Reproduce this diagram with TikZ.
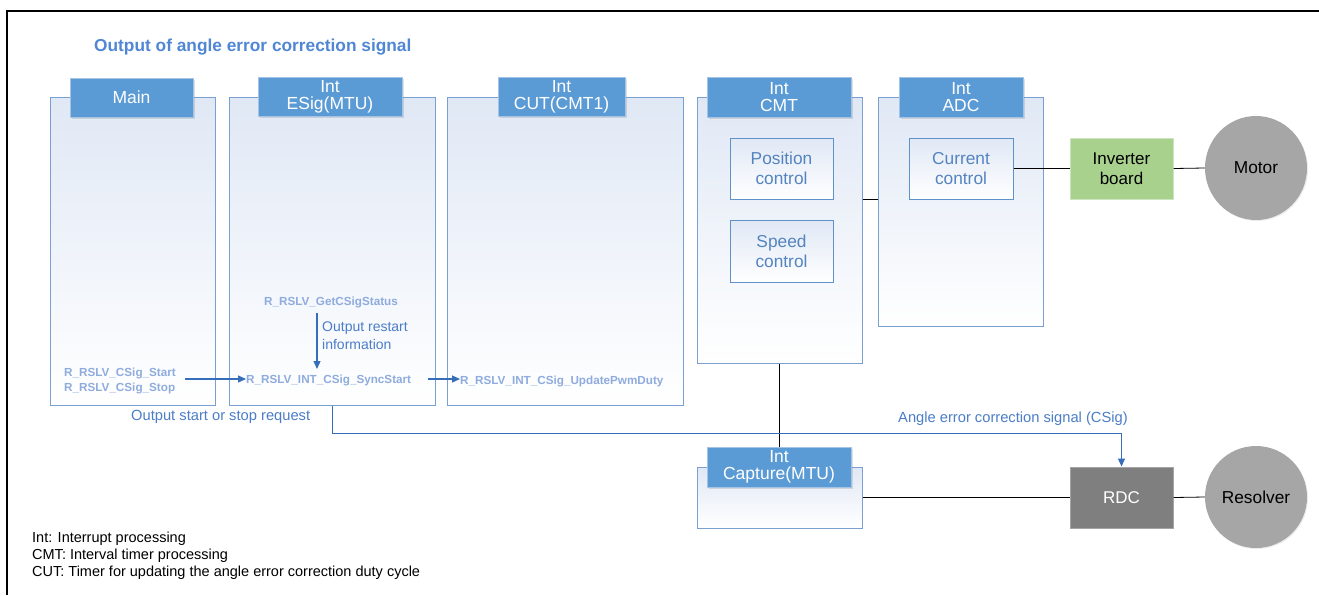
\documentclass[tikz,border=0pt]{standalone}
\usepackage{fontspec}
\setmainfont{Liberation Sans}
\usetikzlibrary{arrows.meta,shapes.geometric,shadows,calc}
\definecolor{hdrfill}{RGB}{91,155,213}
\definecolor{hdrline}{RGB}{165,195,228}
\definecolor{boxline}{RGB}{122,160,210}
\definecolor{boxtop}{RGB}{224,232,245}
\definecolor{inline}{RGB}{95,145,202}
\definecolor{intext}{RGB}{84,132,192}
\definecolor{titleblue}{RGB}{80,135,212}
\definecolor{fnblue}{RGB}{143,172,222}
\definecolor{arrblue}{RGB}{55,110,185}
\definecolor{lblblue}{RGB}{75,125,200}
\definecolor{invgreen}{RGB}{169,209,142}
\definecolor{invline}{RGB}{205,228,190}
\definecolor{circgray}{RGB}{166,166,166}
\definecolor{rdcgray}{RGB}{127,127,127}
\tikzset{
  bigbox/.style={draw=boxline, line width=1pt, top color=boxtop, bottom color=white, inner sep=0pt},
  hdrbox/.style={draw=hdrline, line width=0.8pt, fill=hdrfill, text=white, inner sep=0pt, align=center,
    font=\fontsize{17.5}{19}\selectfont, drop shadow={opacity=0.25, shadow xshift=1.5pt, shadow yshift=-1.5pt}},
  inbox/.style={draw=inline, line width=1pt, top color=boxtop, bottom color=white, text=intext, align=center,
    inner sep=0pt, minimum width=103pt, minimum height=61pt, font=\fontsize{17.3}{20}\selectfont},
  fnlabel/.style={text=fnblue, font=\fontsize{11.7}{15}\bfseries\selectfont, inner sep=0pt, align=left},
  bluelbl/.style={text=lblblue, inner sep=0pt, align=left, font=\fontsize{14.7}{18}\selectfont},
  blackline/.style={draw=black, line width=0.8pt},
  bluearrow/.style={draw=arrblue, line width=1.2pt, -{Triangle[length=8pt,width=7pt]}},
  devcircle/.style={ellipse, fill=circgray, inner sep=0pt, font=\fontsize{17.3}{19}\selectfont,
    drop shadow={opacity=0.15, shadow xshift=1pt, shadow yshift=-1pt}},
}
\begin{document}
\begin{tikzpicture}[x=1pt,y=-1pt]
\useasboundingbox (0,0) rectangle (1319,595);
\fill[white] (0,0) rectangle (1319,595);
% frame
\coordinate (fbl) at (7,595);
\coordinate (ftl) at (7,11);
\coordinate (ftr) at (1319,11);
\draw[line width=2pt] (fbl) -- (ftl) -- (ftr);

% title
\node[anchor=west, text=titleblue, font=\fontsize{17.3}{20}\bfseries\selectfont, inner sep=0pt] (title) at (94,47) {Output of angle error correction signal};

% big boxes
\node[bigbox, minimum width=165pt, minimum height=308pt] (main) at (132.5,251) {};
\node[bigbox, minimum width=206pt, minimum height=308pt] (esig) at (332,251) {};
\node[bigbox, minimum width=236pt, minimum height=308pt] (cut) at (565,251) {};
\node[bigbox, minimum width=165pt, minimum height=266pt] (cmt) at (779.5,230) {};
\node[bigbox, minimum width=165pt, minimum height=229pt] (adc) at (960.5,211.5) {};
\node[bigbox, minimum width=165pt, minimum height=61pt] (cap) at (779.5,497.5) {};

% headers
\node[hdrbox, minimum width=123pt, minimum height=39pt] (mainH) at (131.5,97.5) {Main};
\node[hdrbox, minimum width=144pt, minimum height=39pt] (esigH) at (330,96.5) {Int\\[-2pt]ESig(MTU)};
\node[hdrbox, minimum width=127pt, minimum height=39pt] (cutH) at (561.5,96.5) {Int\\[-2pt]CUT(CMT1)};
\node[hdrbox, minimum width=144pt, minimum height=40pt] (cmtH) at (779,97) {Int\\[-2pt]CMT};
\node[hdrbox, minimum width=124pt, minimum height=40pt] (adcH) at (961,97) {Int\\[-2pt]ADC};
\node[hdrbox, minimum width=144pt, minimum height=40pt] (capH) at (779,467) {Int\\[-2pt]Capture(MTU)};

% inner boxes
\node[inbox] (pos) at (781.5,168.5) {Position\\control};
\node[inbox, minimum height=62pt] (spd) at (781.5,251) {Speed\\control};
\node[inbox, minimum width=104pt] (cur) at (961,168.5) {Current\\control};

% devices
\node[fill=invgreen, draw=invline, line width=1pt, minimum width=103pt, minimum height=61pt, inner sep=0pt,
  align=center, font=\fontsize{17}{20}\selectfont,
  drop shadow={opacity=0.2, shadow xshift=1pt, shadow yshift=-1pt}] (inv) at (1121.5,168.5) {Inverter\\board};
\node[devcircle, minimum width=102pt, minimum height=104pt] (motor) at (1256,168) {Motor};
\node[fill=rdcgray, draw=rdcgray!70!white, line width=1pt, minimum width=103pt, minimum height=61pt, inner sep=0pt,
  text=white, font=\fontsize{17}{20}\selectfont,
  drop shadow={opacity=0.2, shadow xshift=1pt, shadow yshift=-1pt}] (rdc) at (1121.5,497.5) {RDC};
\node[devcircle, minimum width=102pt, minimum height=102pt] (res) at (1256,497) {Resolver};

% black connectors
\draw[blackline] (pos.south -| cmt.east) -- (pos.south -| adc.west);
\draw[blackline] (cur.east) -- (inv.west);
\draw[blackline] (inv.east) -- (motor.west);
\draw[blackline] (cmt.south) -- (capH.north -| cmt.south);
\draw[blackline] (cap.east) -- (rdc.west);
\draw[blackline] (rdc.east) -- (res.west);

% function labels
\node[fnlabel, anchor=west] (start) at (64,381) {R\_RSLV\_CSig\_Start\\R\_RSLV\_CSig\_Stop};
\node[fnlabel, anchor=west] (sync) at (246,380) {R\_RSLV\_INT\_CSig\_SyncStart};
\node[fnlabel, anchor=west] (upd) at (460,381) {R\_RSLV\_INT\_CSig\_UpdatePwmDuty};
\node[fnlabel] (gets) at (331,302) {R\_RSLV\_GetCSigStatus};

% blue arrows
\coordinate (a1s) at (185,379);
\draw[bluearrow] (a1s) -- (a1s -| sync.west);
\coordinate (a2s) at (428,379);
\draw[bluearrow] (a2s) -- (a2s -| upd.west);
\coordinate (a3s) at (317,313);
\coordinate (a3e) at (317,369);
\draw[bluearrow] (a3s) -- (a3e);
\node[bluelbl, anchor=north west, font=\fontsize{14}{18}\selectfont] (restart) at (322,322) {Output restart\\information};

% CSig line
\draw[bluearrow, line width=1pt] (esig.south) -- ++(0,28) -| (rdc.north);
\node[bluelbl, anchor=west] (reqlbl) at (131,417) {Output start or stop request};
\node[bluelbl, anchor=west] (csiglbl) at (898,419) {Angle error correction signal (CSig)};

% legend
\node[anchor=north west, align=left, inner sep=0pt, font=\fontsize{14.5}{17}\selectfont] (legend) at (32,532)
 {Int: Interrupt processing\\CMT: Interval timer processing\\CUT: Timer for updating the angle error correction duty cycle};
\end{tikzpicture}
\end{document}
